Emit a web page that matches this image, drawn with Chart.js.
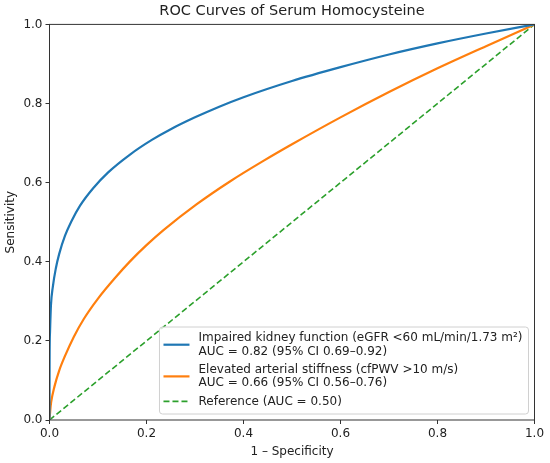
<!DOCTYPE html>
<html>
<head>
<meta charset="utf-8">
<script src="https://cdn.jsdelivr.net/npm/chart.js@4/dist/chart.umd.min.js"></script>
<style>
  body { margin: 0; background: #fff; }
  canvas { display: block; }
</style>
</head>
<body>
<canvas id="roc" width="550" height="463"></canvas>
<script>
// values
const kidneyX = [0, 0.0002, 0.001, 0.003, 0.007, 0.013, 0.02, 0.032, 0.045, 0.063, 0.09, 0.121, 0.166, 0.211, 0.25, 0.3, 0.35, 0.4, 0.5, 0.6, 0.7, 0.8, 0.9, 1];
const kidneyY = [0, 0.15, 0.22, 0.29, 0.338, 0.383, 0.42, 0.466, 0.502, 0.542, 0.586, 0.626, 0.671, 0.708, 0.735, 0.765, 0.792, 0.816, 0.857, 0.892, 0.924, 0.952, 0.977, 1];

const stiffX = [0, 0.002, 0.0034, 0.0103, 0.02, 0.032, 0.05, 0.071, 0.1, 0.135, 0.166, 0.2, 0.235, 0.303, 0.372, 0.441, 0.5, 0.6, 0.7, 0.8, 0.9, 1];
const stiffY = [0, 0.03, 0.045, 0.085, 0.125, 0.162, 0.21, 0.256, 0.307, 0.359, 0.401, 0.442, 0.48, 0.545, 0.603, 0.655, 0.697, 0.765, 0.829, 0.889, 0.945, 1];

const refX = [0, 1];
const refY = [0, 1];

const tickValues = [0, 0.2, 0.4, 0.6, 0.8, 1.0];

const kidneyLabel = ['Impaired kidney function (eGFR <60 mL/min/1.73 m\u00b2)', 'AUC = 0.82 (95% CI 0.69\u20130.92)'];
const stiffLabel = ['Elevated arterial stiffness (cfPWV >10 m/s)', 'AUC = 0.66 (95% CI 0.56\u20130.76)'];
const refLabel = ['Reference (AUC = 0.50)'];

const FONT = 'DejaVu Sans';
const AXIS_COLOR = '#333';

function toPoints(xs, ys) {
  return xs.map((x, i) => ({ x: x, y: ys[i] }));
}

// matplotlib-like box round the axes
const framePlugin = {
  id: 'frame',
  afterDraw(chart) {
    const { ctx, chartArea: a } = chart;
    ctx.save();
    ctx.strokeStyle = AXIS_COLOR;
    ctx.lineWidth = 1;
    ctx.strokeRect(a.left, a.top, a.right - a.left, a.bottom - a.top);
    ctx.restore();
  }
};

// legend with two-line entries, lower right inside the axes
const legendPlugin = {
  id: 'boxLegend',
  afterDatasetsDraw(chart) {
    const { ctx, chartArea: a } = chart;
    const lineGap = 13.4, entryGap = 18.3;
    ctx.save();
    ctx.font = '12px "' + FONT + '"';
    let maxW = 0, rows = 0;
    chart.data.datasets.forEach(ds => {
      ds.legendLines.forEach(t => { maxW = Math.max(maxW, ctx.measureText(t).width); });
      rows += ds.legendLines.length;
    });
    const n = chart.data.datasets.length;
    const h = 11 + 12.6 + (rows - n) * lineGap + (n - 1) * entryGap;
    const w = 40 + maxW + 5;
    const right = a.right - 6, bottom = a.bottom - 6;
    const left = right - w, top = bottom - h;

    ctx.beginPath();
    ctx.roundRect(left, top, w, h, 3);
    ctx.fillStyle = 'rgba(255,255,255,0.8)';
    ctx.fill();
    ctx.strokeStyle = '#d0d0d0';
    ctx.lineWidth = 1;
    ctx.stroke();

    let y = top + 11;
    chart.data.datasets.forEach(ds => {
      const k = ds.legendLines.length;
      const mid = y + (k - 1) * lineGap / 2;
      ctx.beginPath();
      ctx.setLineDash(ds.borderDash || []);
      ctx.strokeStyle = ds.borderColor;
      ctx.lineWidth = ds.borderWidth;
      ctx.moveTo(left + 4, mid);
      ctx.lineTo(left + 30, mid);
      ctx.stroke();
      ctx.setLineDash([]);
      ctx.fillStyle = '#222';
      ctx.textBaseline = 'middle';
      ctx.textAlign = 'left';
      ds.legendLines.forEach((t, j) => ctx.fillText(t, left + 39, y + j * lineGap));
      y += (k - 1) * lineGap + entryGap;
    });
    ctx.restore();
  }
};

new Chart(document.getElementById('roc'), {
  type: 'line',
  data: {
    datasets: [
      {
        label: kidneyLabel.join(' '),
        legendLines: kidneyLabel,
        data: toPoints(kidneyX, kidneyY),
        borderColor: '#1f77b4',
        borderWidth: 2.2,
        pointRadius: 0,
        cubicInterpolationMode: 'monotone'
      },
      {
        label: stiffLabel.join(' '),
        legendLines: stiffLabel,
        data: toPoints(stiffX, stiffY),
        borderColor: '#ff7f0e',
        borderWidth: 2.2,
        pointRadius: 0,
        cubicInterpolationMode: 'monotone'
      },
      {
        label: refLabel[0],
        legendLines: refLabel,
        data: toPoints(refX, refY),
        borderColor: '#2ca02c',
        borderWidth: 1.6,
        borderDash: [6, 3],
        pointRadius: 0
      }
    ]
  },
  options: {
    responsive: false,
    animation: false,
    layout: { padding: { left: 0, right: 15.5, top: 0, bottom: 0 } },
    plugins: {
      legend: { display: false },
      tooltip: { enabled: false },
      title: {
        display: true,
        fullSize: false,
        text: 'ROC Curves of Serum Homocysteine',
        color: '#222',
        font: { family: FONT, size: 14.5, weight: 'normal' },
        padding: { top: 3, bottom: 4 }
      }
    },
    scales: {
      x: {
        type: 'linear',
        min: 0,
        max: 1,
        afterFit(scale) { scale.height = 43; },
        afterBuildTicks(scale) { scale.ticks = tickValues.map(v => ({ value: v })); },
        ticks: {
          color: '#222',
          padding: 3,
          font: { family: FONT, size: 12 },
          callback: v => v.toFixed(1)
        },
        grid: { drawOnChartArea: false, drawTicks: true, tickLength: 4, color: AXIS_COLOR },
        border: { display: false },
        title: {
          display: true,
          text: '1 \u2013 Specificity',
          color: '#222',
          font: { family: FONT, size: 12 },
          padding: { top: 2, bottom: 4 }
        }
      },
      y: {
        type: 'linear',
        min: 0,
        max: 1,
        afterFit(scale) { scale.width = 49.5; },
        afterBuildTicks(scale) { scale.ticks = tickValues.map(v => ({ value: v })); },
        ticks: {
          color: '#222',
          padding: 3,
          font: { family: FONT, size: 12 },
          callback: v => v.toFixed(1)
        },
        grid: { drawOnChartArea: false, drawTicks: true, tickLength: 4, color: AXIS_COLOR },
        border: { display: false },
        title: {
          display: true,
          text: 'Sensitivity',
          color: '#222',
          font: { family: FONT, size: 12 },
          padding: { top: 4, bottom: 2 }
        }
      }
    }
  },
  plugins: [framePlugin, legendPlugin]
});
</script>
</body>
</html>
